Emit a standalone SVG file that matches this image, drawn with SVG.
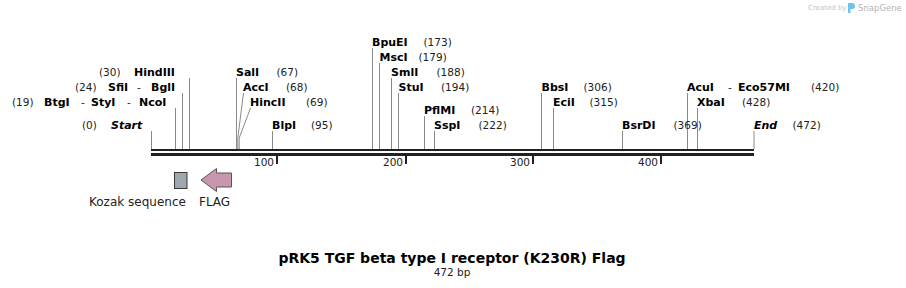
<svg xmlns="http://www.w3.org/2000/svg" width="906" height="288" viewBox="0 0 906 288">
<style>
text{font-family:"DejaVu Sans",Verdana,sans-serif;fill:#000}
.n{font-size:11px;font-weight:bold}
.s{font-size:11px;font-weight:bold;font-style:italic}
.p{font-size:10.5px;fill:#222}
.d{font-size:10.5px;fill:#222}
.r{font-size:10.5px;fill:#222}
.site{stroke:#8a8a8a;stroke-width:1;fill:none}
.bb{fill:#222}
.f{font-size:12px;fill:#222}
</style>
<rect width="906" height="288" fill="#fff"/>

<g id="watermark">
<text x="808" y="10" style="font-size:7px;fill:#c4c4c4">Created by</text>
<path d="M848 3 h4 a3 3 0 0 1 0 6 h-1.5 v4 h-2.5 z" fill="#6ec3ee"/>
<text x="858" y="11" style="font-size:8.5px;fill:#b4b4b4">SnapGene</text>
</g>

<g id="backbone">
<rect class="bb" x="151" y="149" width="603" height="2"/>
<rect class="bb" x="151" y="153" width="603" height="3"/>
<rect class="bb" x="276" y="155" width="2" height="9"/>
<rect class="bb" x="405" y="155" width="2" height="9"/>
<rect class="bb" x="532" y="155" width="2" height="9"/>
<rect class="bb" x="660" y="155" width="2" height="9"/>
<text class="r" x="274" y="166" text-anchor="end">100</text>
<text class="r" x="403" y="166" text-anchor="end">200</text>
<text class="r" x="530" y="166" text-anchor="end">300</text>
<text class="r" x="658" y="166" text-anchor="end">400</text>
</g>

<g id="connectors">
<line class="site" x1="151.5" y1="131" x2="151.5" y2="149"/>
<line class="site" x1="175.5" y1="108" x2="175.5" y2="149"/>
<line class="site" x1="182.5" y1="93" x2="182.5" y2="149"/>
<line class="site" x1="189.5" y1="78" x2="189.5" y2="149"/>
<line class="site" x1="236.5" y1="78" x2="236.5" y2="149"/>
<polyline class="site" points="243.5,93 237.8,138 237.8,149"/>
<polyline class="site" points="250.5,108 239.2,138 239.2,149"/>
<line class="site" x1="272.5" y1="131" x2="272.5" y2="149"/>
<line class="site" x1="372.5" y1="48" x2="372.5" y2="149"/>
<line class="site" x1="379.5" y1="63" x2="379.5" y2="149"/>
<line class="site" x1="391.5" y1="78" x2="391.5" y2="149"/>
<line class="site" x1="398.5" y1="93" x2="398.5" y2="149"/>
<line class="site" x1="424.5" y1="116" x2="424.5" y2="149"/>
<line class="site" x1="434.5" y1="131" x2="434.5" y2="149"/>
<line class="site" x1="541.5" y1="93" x2="541.5" y2="149"/>
<line class="site" x1="553.5" y1="108" x2="553.5" y2="149"/>
<line class="site" x1="622.5" y1="131" x2="622.5" y2="149"/>
<line class="site" x1="687.5" y1="93" x2="687.5" y2="149"/>
<line class="site" x1="697.5" y1="108" x2="697.5" y2="149"/>
<line class="site" x1="754" y1="131" x2="754" y2="149"/>
</g>

<g id="site-start"><text class="p" x="82" y="129">(0)</text><text class="s" x="111" y="129">Start</text></g>
<g id="site-19"><text class="p" x="12" y="106">(19)</text><text class="n" x="44" y="106">BtgI</text><text class="d" x="81" y="106">-</text><text class="n" x="91" y="106">StyI</text><text class="d" x="127" y="106">-</text><text class="n" x="139" y="106">NcoI</text></g>
<g id="site-24"><text class="p" x="75" y="91">(24)</text><text class="n" x="108" y="91">SfiI</text><text class="d" x="137" y="91">-</text><text class="n" x="151" y="91">BglI</text></g>
<g id="site-30"><text class="p" x="99" y="76">(30)</text><text class="n" x="134" y="76">HindIII</text></g>
<g id="site-67"><text class="n" x="236" y="76">SalI</text><text class="p" x="276.5" y="76">(67)</text></g>
<g id="site-68"><text class="n" x="243" y="91">AccI</text><text class="p" x="286" y="91">(68)</text></g>
<g id="site-69"><text class="n" x="250" y="106">HincII</text><text class="p" x="306" y="106">(69)</text></g>
<g id="site-95"><text class="n" x="272" y="129">BlpI</text><text class="p" x="311" y="129">(95)</text></g>
<g id="site-173"><text class="n" x="372" y="46">BpuEI</text><text class="p" x="423.5" y="46">(173)</text></g>
<g id="site-179"><text class="n" x="379.5" y="61">MscI</text><text class="p" x="418.5" y="61">(179)</text></g>
<g id="site-188"><text class="n" x="391" y="76">SmlI</text><text class="p" x="436.5" y="76">(188)</text></g>
<g id="site-194"><text class="n" x="398.5" y="91">StuI</text><text class="p" x="441" y="91">(194)</text></g>
<g id="site-214"><text class="n" x="424" y="114">PflMI</text><text class="p" x="471" y="114">(214)</text></g>
<g id="site-222"><text class="n" x="434" y="129">SspI</text><text class="p" x="478.5" y="129">(222)</text></g>
<g id="site-306"><text class="n" x="541.5" y="91">BbsI</text><text class="p" x="583.5" y="91">(306)</text></g>
<g id="site-315"><text class="n" x="553" y="106">EciI</text><text class="p" x="589.5" y="106">(315)</text></g>
<g id="site-369"><text class="n" x="622" y="129">BsrDI</text><text class="p" x="673.5" y="129">(369)</text></g>
<g id="site-420"><text class="n" x="687" y="91">AcuI</text><text class="d" x="728" y="91">-</text><text class="n" x="738" y="91">Eco57MI</text><text class="p" x="811" y="91">(420)</text></g>
<g id="site-428"><text class="n" x="697" y="106">XbaI</text><text class="p" x="742" y="106">(428)</text></g>
<g id="site-end"><text class="s" x="754" y="129">End</text><text class="p" x="792.5" y="129">(472)</text></g>

<g id="kozak">
<rect x="174.5" y="172.5" width="12.5" height="16" fill="#9ea6b0" stroke="#3a3a3a" stroke-width="1"/>
<text class="f" x="89" y="206">Kozak sequence</text>
</g>
<g id="flag">
<path d="M201,180 L216.5,168.5 L216.5,173 L231.5,173 L231.5,187 L216.5,187 L216.5,191.5 Z" fill="#c996b0" stroke="#555" stroke-width="1"/>
<text class="f" x="199" y="206">FLAG</text>
</g>

<g id="title">
<text x="452" y="263" text-anchor="middle" style="font-size:14px;font-weight:bold">pRK5 TGF beta type I receptor (K230R) Flag</text>
<text x="452" y="276" text-anchor="middle" style="font-size:10.5px;fill:#222">472 bp</text>
</g>
</svg>
